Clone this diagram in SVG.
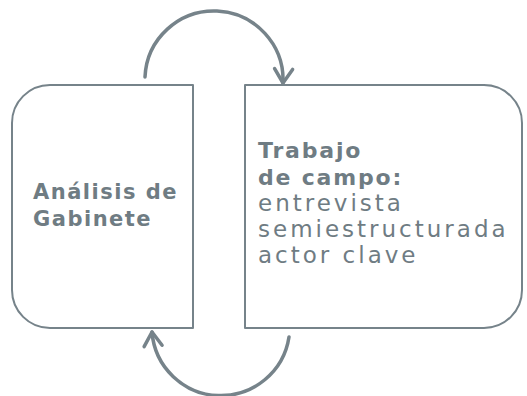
<svg xmlns="http://www.w3.org/2000/svg" width="527" height="396" viewBox="0 0 527 396">
  <style>
    .box { fill: none; stroke: #76838a; stroke-width: 2; stroke-linejoin: round; }
    .arc { fill: none; stroke: #76838a; stroke-width: 3.5; stroke-linecap: round; }
    .t { font-family: "DejaVu Sans", "Open Sans", sans-serif; fill: #6f7c83; }
    .lbl { font-size: 21px; font-weight: 700; letter-spacing: 1.5px; }
    .hd { font-size: 22px; font-weight: 700; letter-spacing: 1.8px; }
    .tx { font-size: 23px; font-weight: 400; letter-spacing: 3px; }
  </style>
  <defs>
    <marker id="arrow" markerUnits="userSpaceOnUse" markerWidth="30" markerHeight="30" refX="0" refY="0" viewBox="-20 -15 30 30" orient="auto" overflow="visible">
      <path d="M-14,-9 L0,0 L-14,9" fill="none" stroke="#76838a" stroke-width="3.5" stroke-linecap="round" stroke-linejoin="round"/>
    </marker>
  </defs>
  <g id="node-gabinete">
    <path class="box" d="M193,85 L50,85 A38,38 0 0 0 12,123 L12,290 A38,38 0 0 0 50,328 L193,328 Z"/>
    <text class="t lbl" x="33" y="199">Análisis de</text>
    <text class="t lbl" x="33" y="226">Gabinete</text>
  </g>
  <g id="node-campo">
    <path class="box" d="M245,85 L484,85 A38,38 0 0 1 522,123 L522,290 A38,38 0 0 1 484,328 L245,328 Z"/>
    <text class="t hd" x="258" y="158">Trabajo</text>
    <text class="t hd" x="258" y="185">de campo:</text>
    <text class="t tx" x="258" y="211">entrevista</text>
    <text class="t tx" x="258" y="237">semiestructurada</text>
    <text class="t tx" x="258" y="263">actor clave</text>
  </g>
  <g id="connectors">
    <path class="arc" d="M145,77 A69,69 0 0 1 283,83" marker-end="url(#arrow)"/>
    <path class="arc" d="M289,337 A69,69 0 0 1 152,332" marker-end="url(#arrow)"/>
  </g>
</svg>
